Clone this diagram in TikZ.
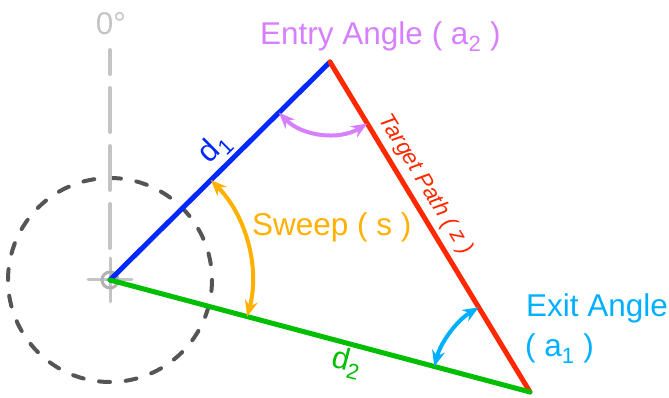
\documentclass[tikz,border=0pt]{standalone}
\usepackage{fontspec}
\setmainfont{Liberation Sans}
\usetikzlibrary{arrows.meta}

\definecolor{legblue}{RGB}{0,40,255}
\definecolor{legred}{RGB}{255,40,0}
\definecolor{leggreen}{RGB}{0,190,0}
\definecolor{sweeporange}{RGB}{255,176,0}
\definecolor{entrypurple}{RGB}{214,128,255}
\definecolor{exitcyan}{RGB}{0,176,255}
\definecolor{ringgray}{RGB}{85,85,85}
\definecolor{guidegray}{RGB}{196,196,196}

\begin{document}
\begin{tikzpicture}[
  x=1pt, y=1pt,
  leg/.style={line width=5pt, line cap=round},
  guide/.style={line width=4pt, line cap=round, draw=guidegray},
  anglearrow/.style={{Stealth[length=16pt, width=13pt]}-{Stealth[length=16pt, width=13pt]}, line width=4pt},
  lbl/.style={inner sep=0pt, font=\fontsize{31.5}{35}\selectfont},
  leglbl/.style={inner sep=1pt, sloped, font=\fontsize{31}{34}\selectfont}
]
\useasboundingbox (0,0) rectangle (669,398);

% ===== Triangle corners =====
\coordinate (O) at (110,118);
\coordinate (T) at (330,336);
\coordinate (B) at (530,6);
\coordinate (Zero) at (110,348);

% ===== Reference marks =====
% dashed range circle
\draw[line width=4pt, draw=ringgray, line cap=round, dash pattern=on 11pt off 15.7pt, dash phase=10.9pt] (O) circle[radius=102];
% 0 degree guide and crosshair
\draw[guide, dash pattern=on 44pt off 14pt] ([yshift=32pt]O) -- (Zero);
\draw[guide, line width=3pt] ([xshift=-22pt]O) -- ([xshift=22pt]O);
\draw[guide, line width=3pt] ([yshift=-22pt]O) -- ([yshift=22pt]O);
\draw[line width=3pt, draw=gray!60] (O) circle[radius=8];
\node[lbl, text=guidegray, anchor=base] (zero) at (111,363) {0°};

% ===== Sides =====
\draw[leg, draw=legblue] (O) -- (T) node[leglbl, pos=0.54, above=2pt, text=legblue] (d1) {d\textsubscript{1}};
\draw[leg, draw=legred] (T) -- (B) node[leglbl, pos=0.40, above=4pt, text=legred, font=\fontsize{22.5}{24}\selectfont\itshape] (zpath) {Target Path ( z )};
\draw[leg, draw=leggreen] (O) -- (B) node[leglbl, pos=0.575, below=1pt, text=leggreen] (d2) {d\textsubscript{2}};

% ===== Angle arrows =====
\draw[anglearrow, color=sweeporange] ([shift={(44.74:142)}]O) arc[start angle=44.74, end angle=-14.93, radius=142];
\draw[anglearrow, color=entrypurple] ([shift={(224.74:72)}]T) arc[start angle=224.74, end angle=301.22, radius=72];
\draw[anglearrow, color=exitcyan] ([shift={(121.22:99)}]B) arc[start angle=121.22, end angle=165.07, radius=99];

% ===== Angle labels =====
\node[lbl, text=entrypurple, anchor=base west] (entry) at (260,353) {Entry Angle ( a\textsubscript{2} )};
\node[lbl, text=sweeporange, anchor=base west] (sweep) at (252,162) {Sweep ( s )};
\node[lbl, text=exitcyan, anchor=base west] (exit) at (526,81) {Exit Angle};
\node[lbl, text=exitcyan, anchor=base west] (exitsym) at (525,41) {( a\textsubscript{1} )};

\end{tikzpicture}
\end{document}
